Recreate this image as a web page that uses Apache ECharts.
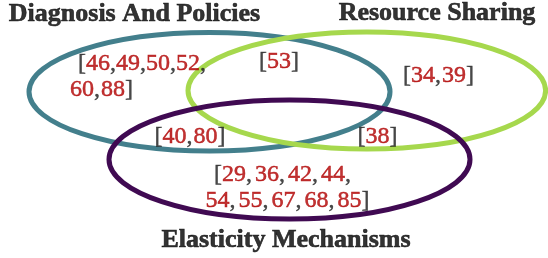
<!DOCTYPE html>
<html>
<head>
<meta charset="utf-8">
<script src="https://cdn.jsdelivr.net/npm/echarts@6/dist/echarts.min.js"></script>
<style>
html,body{margin:0;padding:0;background:#fff;}
#chart{width:548px;height:258px;}
</style>
</head>
<body>
<div id="chart"></div>
<script>
// ---- data ----
const setNames = ['Diagnosis And Policies', 'Resource Sharing', 'Elasticity Mechanisms'];
// ellipse geometry in chart units: [centerX, centerY, radiusX, radiusY]
const setEllipses = [
  [209.5, 91.8, 180.5, 59.3],
  [366.8, 90.5, 178.8, 58.5],
  [289.5, 159.5, 180.5, 59.5]
];
const onlyDiagnosis = [46, 49, 50, 52, 60, 88];
const diagnosisResource = [53];
const onlyResource = [34, 39];
const diagnosisElasticity = [40, 80];
const resourceElasticity = [38];
const onlyElasticity = [29, 36, 42, 44, 54, 55, 67, 68, 85];

// ---- layout ----
const setColors = ['#437f8c', '#a6d84d', '#400a52'];
const titlePos = [[134.5, 14], [437, 13.5], [286, 240]];
// each text line: [values, x, y, align, isFirstLine, isLastLine, gap]
const lines = [
  [onlyDiagnosis.slice(0, 4), 78, 64, 'left', true, false, 0],
  [onlyDiagnosis.slice(4), 70, 90, 'left', false, true, 1],
  [diagnosisResource, 279, 62, 'center', true, true, 0],
  [onlyResource, 438.5, 76, 'center', true, true, 1],
  [diagnosisElasticity, 190, 137, 'center', true, true, 1],
  [resourceElasticity, 377.5, 137, 'center', true, true, 0],
  [onlyElasticity.slice(0, 4), 284, 175, 'center', true, false, 3],
  [onlyElasticity.slice(4), 287.5, 201, 'center', false, true, 3]
];

const FONT = '"Liberation Serif", "DejaVu Serif", serif';
const BLACK = '#000000';
const RED = '#b00000';

function lineText(l) {
  const vals = l[0], first = l[4], last = l[5];
  let s = first ? '{k|[}' : '';
  s += vals.map(v => '{r|' + v + '}').join('{g|,}');
  s += last ? '{k|]}' : '{g|,}';
  return s;
}
function richFor(gap) {
  return {
    k: { color: '#1a1a1a', fontSize: 24, fontFamily: FONT, textBorderColor: '#1a1a1a', textBorderWidth: 0.4 },
    g: { color: '#1a1a1a', fontSize: 24, fontFamily: FONT, textBorderColor: '#1a1a1a', textBorderWidth: 0.4, padding: [0, gap, 0, 0] },
    r: { color: RED, fontSize: 24, fontFamily: FONT, textBorderColor: RED, textBorderWidth: 0.5 }
  };
}

const chart = echarts.init(document.getElementById('chart'), null, { renderer: 'canvas' });
chart.setOption({
  animation: false,
  backgroundColor: '#ffffff',
  grid: { left: 0, right: 0, top: 0, bottom: 0 },
  xAxis: { type: 'value', min: 0, max: 548, show: false },
  yAxis: { type: 'value', min: 0, max: 258, inverse: true, show: false },
  series: [
    {
      type: 'custom',
      coordinateSystem: 'cartesian2d',
      clip: false,
      data: setEllipses.map((e, i) => ({ value: e })),
      renderItem: function (params, api) {
        const c = api.coord([api.value(0), api.value(1)]);
        const p = api.coord([api.value(0) + api.value(2), api.value(1) + api.value(3)]);
        const rx = Math.abs(p[0] - c[0]);
        const ry = Math.abs(p[1] - c[1]);
        return {
          type: 'ellipse',
          shape: { cx: c[0], cy: c[1], rx: rx, ry: ry },
          style: { fill: 'none', stroke: setColors[params.dataIndex], lineWidth: 5 }
        };
      },
      z: 1
    },
    {
      type: 'scatter',
      symbolSize: 1,
      itemStyle: { color: 'rgba(0,0,0,0)' },
      z: 3,
      data: lines.map(l => ({
        value: [l[1], l[2]],
        label: {
          show: true, position: 'inside', align: l[3], verticalAlign: 'middle',
          formatter: lineText(l), rich: richFor(l[6])
        }
      }))
    },
    {
      type: 'scatter',
      symbolSize: 1,
      itemStyle: { color: 'rgba(0,0,0,0)' },
      z: 3,
      data: setNames.map((n, i) => ({
        value: titlePos[i],
        label: {
          show: true, position: 'inside', align: 'center', verticalAlign: 'middle',
          formatter: n, color: BLACK, fontSize: 26, fontWeight: 'bold', fontFamily: FONT,
          textBorderColor: BLACK, textBorderWidth: 0.6
        }
      }))
    }
  ]
});
</script>
</body>
</html>
